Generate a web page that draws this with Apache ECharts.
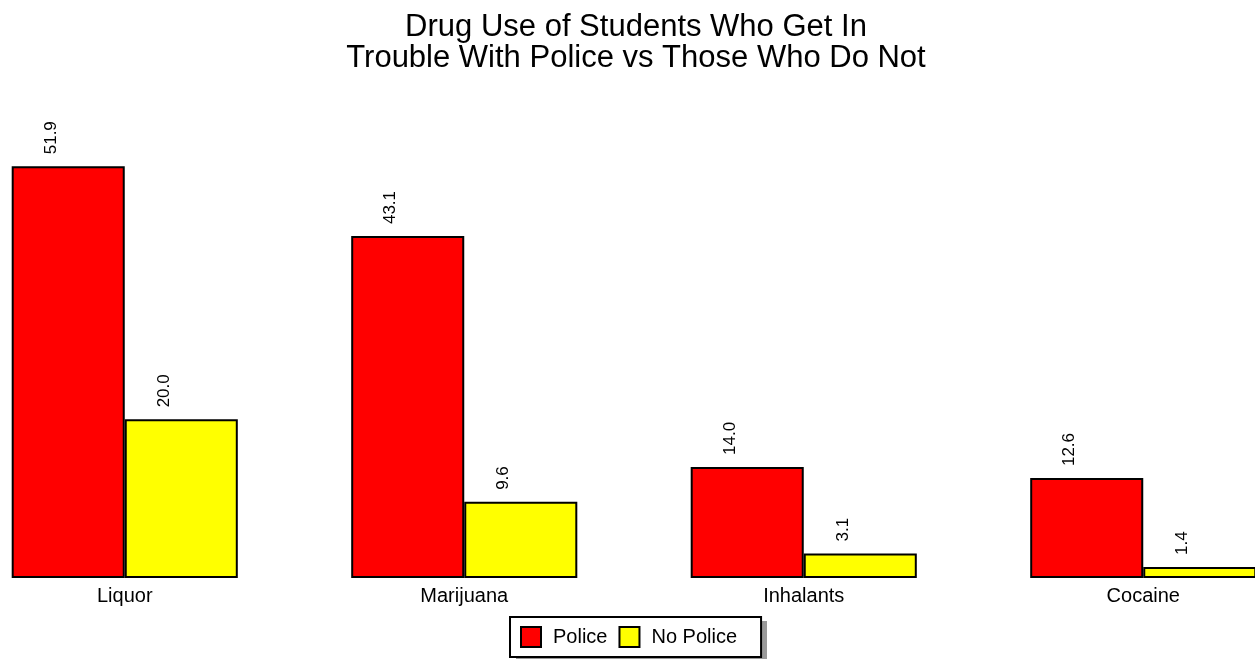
<!DOCTYPE html>
<html>
<head>
<meta charset="utf-8">
<script src="https://cdn.jsdelivr.net/npm/echarts@6/dist/echarts.min.js"></script>
<style>
  html, body { margin: 0; padding: 0; background: #fff; }
  #chart { width: 1255px; height: 659px; }
</style>
</head>
<body>
<div id="chart"></div>
<script>
const categories = ['Liquor', 'Marijuana', 'Inhalants', 'Cocaine'];
const police = [51.9, 43.1, 14.0, 12.6];
const noPolice = [20.0, 9.6, 3.1, 1.4];

const FONT = 'Liberation Sans, Arial, sans-serif';
const chart = echarts.init(document.getElementById('chart'));

const barLabel = {
  show: true,
  position: 'top',
  rotate: 90,
  align: 'left',
  verticalAlign: 'middle',
  distance: 12,
  offset: [0, -17],
  color: '#000',
  fontSize: 17,
  fontFamily: FONT,
  formatter: p => p.value.toFixed(1)
};

chart.setOption({
  animation: false,
  title: {
    text: 'Drug Use of Students Who Get In\nTrouble With Police vs Those Who Do Not',
    left: 631,
    textAlign: 'center',
    top: 7,
    textStyle: {
      color: '#000',
      fontSize: 31,
      fontWeight: 'normal',
      lineHeight: 31,
      fontFamily: FONT
    }
  },
  // drop shadow behind the legend box
  graphic: [{
    type: 'rect',
    left: 516,
    top: 621,
    z: -1,
    shape: { width: 251, height: 45 },
    style: { fill: '#999' }
  }],
  legend: {
    data: ['Police', 'No Police'],
    left: 510,
    bottom: 2,
    backgroundColor: '#fff',
    borderColor: '#000',
    borderWidth: 2,
    borderRadius: 0,
    padding: [9, 24, 9, 10],
    itemGap: 11,
    itemWidth: 20,
    itemHeight: 20,
    icon: 'rect',
    itemStyle: { borderColor: '#000', borderWidth: 2 },
    textStyle: {
      color: '#000',
      fontSize: 20,
      padding: [0, 0, 0, 7],
      fontFamily: FONT
    }
  },
  grid: {
    left: -45,
    width: 1358,
    top: 102,
    height: 476,
    outerBoundsMode: 'none',
    containLabel: false
  },
  xAxis: {
    type: 'category',
    data: categories,
    axisLine: { show: false },
    axisTick: { show: false },
    axisLabel: {
      color: '#000',
      fontSize: 20,
      margin: 8,
      fontFamily: FONT
    }
  },
  yAxis: {
    type: 'value',
    min: 0,
    max: 60,
    show: false,
    splitLine: { show: false }
  },
  series: [
    {
      name: 'Police',
      type: 'bar',
      data: police,
      barCategoryGap: '33.4%',
      barGap: '0%',
      itemStyle: { color: '#ff0000', borderColor: '#000', borderWidth: 2 },
      label: barLabel
    },
    {
      name: 'No Police',
      type: 'bar',
      data: noPolice,
      itemStyle: { color: '#ffff00', borderColor: '#000', borderWidth: 2 },
      label: barLabel
    }
  ]
});
</script>
</body>
</html>
